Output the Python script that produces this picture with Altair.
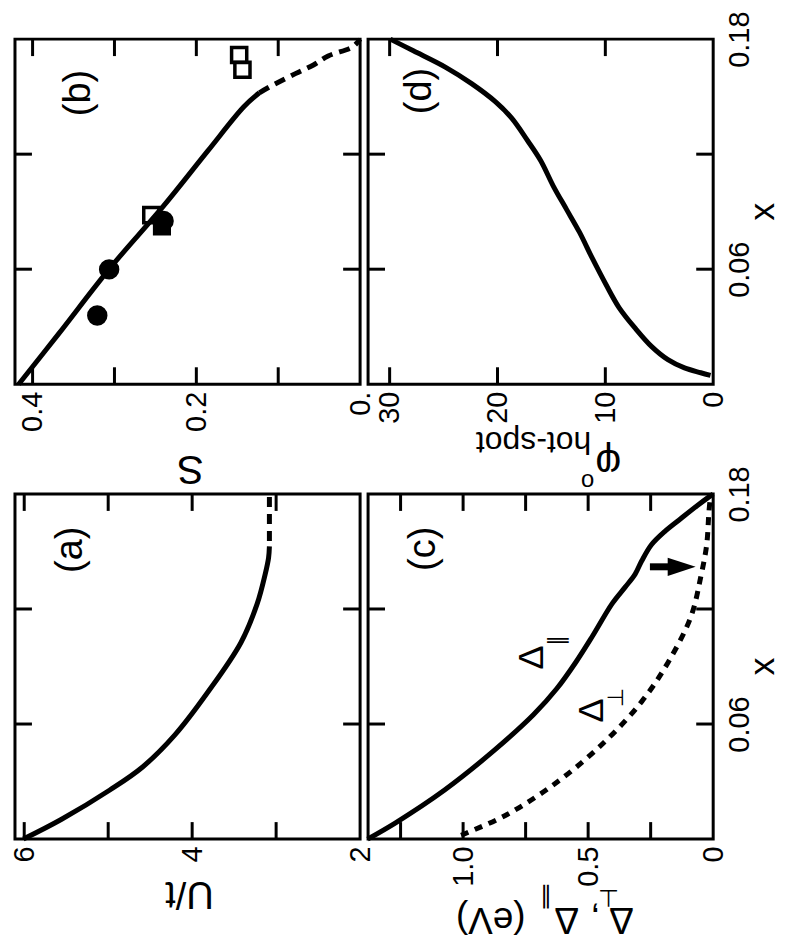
import altair as alt
import pandas as pd

# ---------------- data ----------------
# doping x runs vertically (0 at the bottom, 0.18 at the top of every panel)
dop_ticks = [0.06, 0.12]
dop_labels = [0.06, 0.18]

# (a) U/t
a_dop = [0.0, 0.0102, 0.0256, 0.0376, 0.0546, 0.0768, 0.1024, 0.1228, 0.1382, 0.1467, 0.1527]
a_u = [6.01, 5.56, 4.98, 4.59, 4.20, 3.81, 3.42, 3.225, 3.13, 3.09, 3.08]
a_dash_dop = [0.1555, 0.18]
a_dash_u = [3.08, 3.08]
a_ticks = [6, 5, 4, 3]
a_labels = [6, 4, 2]

# (b) S
b_dop = [0.0, 0.0264, 0.0603, 0.093, 0.1217, 0.1447, 0.152]
b_s = [0.417, 0.368, 0.306, 0.240, 0.186, 0.142, 0.123]
b_dash_dop = [0.152, 0.155, 0.162, 0.1665, 0.1712, 0.176, 0.18]
b_dash_s = [0.123, 0.111, 0.079, 0.057, 0.039, 0.009, 0.0]
b_circ_dop = [0.0358, 0.0599, 0.0852]
b_circ_s = [0.321, 0.3065, 0.240]
b_sq_dop = [0.0882, 0.1640, 0.1717]
b_sq_s = [0.255, 0.1437, 0.1477]
b_fsq_dop = [0.0823]
b_fsq_s = [0.242]
b_ticks = [0.4, 0.3, 0.2, 0.1]
b_labels = [0.4, 0.2, 0.0]

# (c) gaps in eV
c_par_dop = [0.0, 0.0085, 0.0256, 0.0461, 0.0648, 0.0785, 0.0921, 0.1058, 0.1228, 0.1314,
             0.1382, 0.1450, 0.1535, 0.1604, 0.1672, 0.1740, 0.1790, 0.18]
c_par_d = [1.382, 1.270, 1.074, 0.877, 0.719, 0.625, 0.550, 0.483, 0.404, 0.352,
           0.312, 0.286, 0.247, 0.194, 0.129, 0.063, 0.011, 0.0]
c_perp_dop = [0.002, 0.0128, 0.0307, 0.0512, 0.0717, 0.092, 0.116, 0.1365, 0.1535, 0.1706, 0.18]
c_perp_d = [1.008, 0.824, 0.614, 0.430, 0.286, 0.181, 0.089, 0.050, 0.026, 0.017, 0.010]
c_arrow_dop = [0.142]
c_arrow_from = [0.253]
c_arrow_to = [0.17]
c_arrow_head = [0.126]
c_ticks = [1.25, 1.0, 0.75, 0.5, 0.25]
c_labels = [1.0, 0.5, 0.0]

# (d) hot-spot angle
d_dop = [0.18, 0.1739, 0.1653, 0.1568, 0.1474, 0.1389, 0.127, 0.1167, 0.1031, 0.0912,
         0.0793, 0.0656, 0.052, 0.04, 0.029, 0.0196, 0.0128, 0.0085, 0.006, 0.0046]
d_phi = [29.94, 27.8, 24.8, 22.4, 20.2, 18.7, 17.2, 16.0, 14.8, 13.6,
         12.4, 11.2, 9.94, 8.73, 7.2, 5.7, 4.2, 2.66, 1.15, 0.25]
d_ticks = [30, 20, 10]
d_labels = [30, 20, 10, 0]

# ---------------- styling ----------------
FONT = "Liberation Sans, Arial, sans-serif"
TFONT = "Liberation Sans Narrow, Liberation Sans, Arial, sans-serif"
TSIZE = 29
W = 346
H = 346
TL = 17
LW = 5
XOFF = 50


def vaxis(values, expr):
    return alt.Axis(values=values, labelExpr=expr, labelAngle=270, labelAlign="right",
                    labelBaseline="middle", ticks=False, domain=False, grid=False, title=None,
                    labelPadding=7, labelFlush=False, labelOverlap=False, labelBound=False,
                    labelFont=TFONT, labelFontSize=TSIZE, labelColor="black")


def daxis():
    return alt.Axis(orient="right", values=dop_labels, format=".2f", labelAngle=270,
                    labelAlign="center", labelBaseline="top", ticks=False, domain=False,
                    grid=False, title=None, labelPadding=12, labelFlush=False,
                    labelOverlap=False, labelBound=False, labelFont=TFONT,
                    labelFontSize=TSIZE, labelColor="black")


def txt(s, x, y, size, angle, font=FONT):
    return alt.Chart(pd.DataFrame({"t": [s]})).mark_text(
        fontSize=size, angle=angle, font=font, align="center", baseline="middle", color="black"
    ).encode(text="t:N", x=alt.value(x), y=alt.value(y))


def panel(vdom, vticks, vlabels, vexpr, right, content):
    vsc = alt.Scale(domain=vdom, reverse=True, nice=False, zero=False)
    dsc = alt.Scale(domain=[0, 0.18], nice=False, zero=False)
    xa = vaxis(vlabels, vexpr)
    ya = daxis() if right else None
    X = lambda f: alt.X(f + ":Q", scale=vsc, axis=xa)
    Y = lambda f: alt.Y(f + ":Q", scale=dsc, axis=ya)
    vt = alt.Chart(pd.DataFrame({"v": vticks}))
    dt = alt.Chart(pd.DataFrame({"d": dop_ticks}))
    rule = dict(color="black", strokeWidth=3)
    layers = [
        vt.mark_rule(**rule).encode(x=X("v"), y=alt.value(H), y2=alt.value(H - TL)),
        vt.mark_rule(**rule).encode(x=X("v"), y=alt.value(0), y2=alt.value(TL)),
        dt.mark_rule(**rule).encode(y=Y("d"), x=alt.value(0), x2=alt.value(TL)),
        dt.mark_rule(**rule).encode(y=Y("d"), x=alt.value(W - TL), x2=alt.value(W)),
    ]
    layers += content(X, Y)
    return alt.layer(*layers).properties(width=W, height=H)


def line(dop, val, X, Y, dash=None):
    df = pd.DataFrame({"d": dop, "v": val, "i": list(range(len(dop)))})
    kw = dict(color="black", strokeWidth=LW, strokeCap="butt", strokeJoin="round",
              interpolate="catmull-rom")
    if dash:
        kw["strokeDash"] = dash
    return alt.Chart(df).mark_line(**kw).encode(x=X("v"), y=Y("d"), order="i:Q")


def content_a(X, Y):
    return [
        line(a_dop, a_u, X, Y),
        line(a_dash_dop, a_dash_u, X, Y, dash=[10, 7]),
        txt("(a)", 56, 56, 38, 270),
        txt("U/t", 175, 400, 38, 180),
    ]


def content_b(X, Y):
    sq = alt.Chart(pd.DataFrame({"d": b_sq_dop, "v": b_sq_s})).mark_point(
        shape="square", size=230, filled=False, color="black", strokeWidth=3.5, opacity=1
    ).encode(x=X("v"), y=Y("d"))
    fsq = alt.Chart(pd.DataFrame({"d": b_fsq_dop, "v": b_fsq_s})).mark_point(
        shape="square", size=330, filled=True, color="black", opacity=1
    ).encode(x=X("v"), y=Y("d"))
    circ = alt.Chart(pd.DataFrame({"d": b_circ_dop, "v": b_circ_s})).mark_point(
        shape="circle", size=420, filled=True, color="black", opacity=1
    ).encode(x=X("v"), y=Y("d"))
    return [
        line(b_dop, b_s, X, Y),
        line(b_dash_dop, b_dash_s, X, Y, dash=[11, 7]),
        fsq, sq, circ,
        txt("(b)", 64, 54, 38, 270),
        txt("S", 176, 430, 40, 180),
    ]


def content_c(X, Y):
    arr = pd.DataFrame({"d": c_arrow_dop, "v": c_arrow_from, "v2": c_arrow_to, "h": c_arrow_head})
    shaft = alt.Chart(arr).mark_rule(color="black", strokeWidth=7).encode(
        x=X("v"), x2="v2:Q", y=Y("d"))
    head = alt.Chart(arr).mark_point(
        shape="M -1 -0.65 L 1 0 L -1 0.65 Z", size=784, filled=True, color="black", opacity=1
    ).encode(x=X("h"), y=Y("d"))
    return [
        line(c_par_dop, c_par_d, X, Y),
        line(c_perp_dop, c_perp_d, X, Y, dash=[8, 7]),
        shaft, head,
        txt("(c)", 56, 55, 38, 270),
        txt("Δ", 164, 164, 36, 270),
        txt("∥", 189, 147, 22, 270),
        txt("Δ", 225, 217, 36, 270),
        txt("⊥", 249, 204, 22, 270),
        txt("x", W + XOFF, H / 2, 36, 270),
        # axis title  "Δ⊥, Δ∥ (eV)"  (turned upside down)
        txt("(eV)", 123, 426, 37, 180),
        txt("Δ", 199, 426, 37, 180),
        txt("∥", 178, 404, 24, 180),
        txt(",", 228, 426, 37, 180),
        txt("⊥", 241, 404, 24, 180),
        txt("Δ", 254, 426, 37, 180),
    ]


def content_d(X, Y):
    return [
        line(d_dop, d_phi, X, Y),
        txt("(d)", 52, 52, 38, 270),
        txt("x", W + XOFF, H / 2, 36, 270),
        txt("hot-spot", 166, 404, 32, 180),
        txt("φ", 241, 424, 40, 180),
        txt("o", 220, 443, 24, 180),
    ]


pa = panel([2, 6.11], a_ticks, a_labels, "format(datum.value, 'd')", False, content_a)
pb = panel([0, 0.4215], b_ticks, b_labels,
           "datum.value == 0 ? '0.' : format(datum.value, '.1f')", False, content_b)
pc = panel([0, 1.38], c_ticks, c_labels,
           "datum.value == 0 ? '0' : format(datum.value, '.1f')", True, content_c)
pd_ = panel([0, 32], d_ticks, d_labels, "format(datum.value, 'd')", True, content_d)

chart = alt.concat(pb, pd_, pa, pc, columns=2, spacing={"row": 110, "column": 8},
                   bounds="flush").properties(
    padding=0, background="white"
).configure_view(stroke="black", strokeWidth=3)

chart.save("out.html", embed_options={"renderer": "svg", "actions": False})
